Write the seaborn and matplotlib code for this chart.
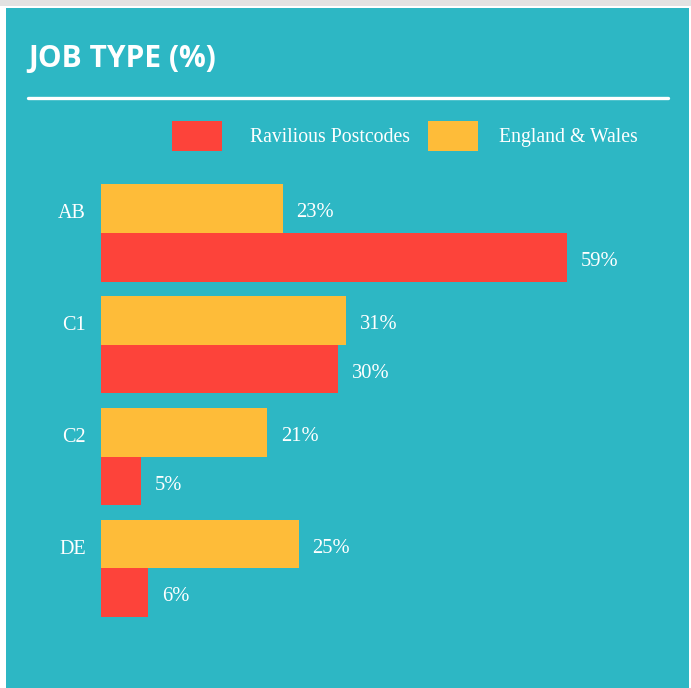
import matplotlib
matplotlib.use("Agg")
import matplotlib.pyplot as plt
from matplotlib.patches import Rectangle, Patch
from matplotlib.lines import Line2D
import seaborn as sns
import pandas as pd

categories = ["AB", "C1", "C2", "DE"]
ravilious = [59, 30, 5, 6]
england_wales = [23, 31, 21, 25]
series_names = ["Ravilious Postcodes", "England & Wales"]
title = "JOB TYPE (%)"

TEAL = "#2DB7C4"
RED = "#FD433A"
YELLOW = "#FEBC39"
WHITE = "#FFFFFF"

df = pd.DataFrame({
    "Group": categories * 2,
    "Pct": england_wales + ravilious,
    "Series": [series_names[1]] * len(categories) + [series_names[0]] * len(categories),
})

sns.set_theme(style="white")
W, H = 691, 688
fig = plt.figure(figsize=(W / 100, H / 100), dpi=100)
fig.patch.set_facecolor("white")

# background panel
fig.patches.append(Rectangle((6 / W, 0), (689 - 6) / W, 680 / H, transform=fig.transFigure,
                             facecolor=TEAL, edgecolor="none", zorder=-10))
fig.patches.append(Rectangle((0, 1 - 6 / H), 1, 6 / H, transform=fig.transFigure,
                             facecolor="#e2e2e2", edgecolor="none", zorder=-10))

# title and rule
fig.text(28 / W, 1 - 59 / H, title, color=WHITE, fontsize=21.5, fontweight="bold",
         family="Open Sans", va="center", ha="left")
fig.lines.append(Line2D([28 / W, 668 / W], [1 - 98 / H, 1 - 98 / H], transform=fig.transFigure,
                        color=WHITE, linewidth=2.4))

ax = fig.add_axes([101 / W, 0.0762, 553 / W, 0.6827])
ax.set_facecolor("none")
palette = {series_names[0]: RED, series_names[1]: YELLOW}
sns.barplot(data=df, y="Group", x="Pct", hue="Series", order=categories,
            hue_order=[series_names[1], series_names[0]], palette=palette,
            width=0.868, gap=0, saturation=1, linewidth=0, orient="h", ax=ax, errorbar=None)
ax.set_xlim(0, 70)
ax.set_ylim(3.6, -0.6)

for cont in ax.containers:
    labels = ax.bar_label(cont, fmt="{:.0f}%", padding=10, color=WHITE, fontsize=14.8,
                          family="Liberation Serif")
    for t in labels:
        x_off, y_off = t.xyann
        t.xyann = (x_off, y_off - 3)

ax.set_yticks([i - 0.195 for i in range(len(categories))])
ax.set_yticklabels(categories, family="Liberation Serif", fontsize=14.5, color=WHITE)
ax.tick_params(axis="y", length=0, pad=11)
ax.set_xticks([])
ax.set_xlabel("")
ax.set_ylabel("")
for s in ax.spines.values():
    s.set_visible(False)
if ax.get_legend() is not None:
    ax.get_legend().remove()

leg_font = {"family": "Liberation Serif", "size": 14.2}
leg1 = fig.legend([Patch(facecolor=RED, edgecolor="none")], [series_names[0]],
                  loc="center left", bbox_to_anchor=(172 / W, 1 - 136 / H),
                  frameon=False, borderpad=0, borderaxespad=0,
                  handlelength=2.54, handleheight=2.04, handletextpad=1.42,
                  prop=leg_font, labelcolor=WHITE)
leg2 = fig.legend([Patch(facecolor=YELLOW, edgecolor="none")], [series_names[1]],
                  loc="center left", bbox_to_anchor=(428 / W, 1 - 136 / H),
                  frameon=False, borderpad=0, borderaxespad=0,
                  handlelength=2.54, handleheight=2.04, handletextpad=1.07,
                  prop=leg_font, labelcolor=WHITE)

fig.savefig("out.png", dpi=100)
